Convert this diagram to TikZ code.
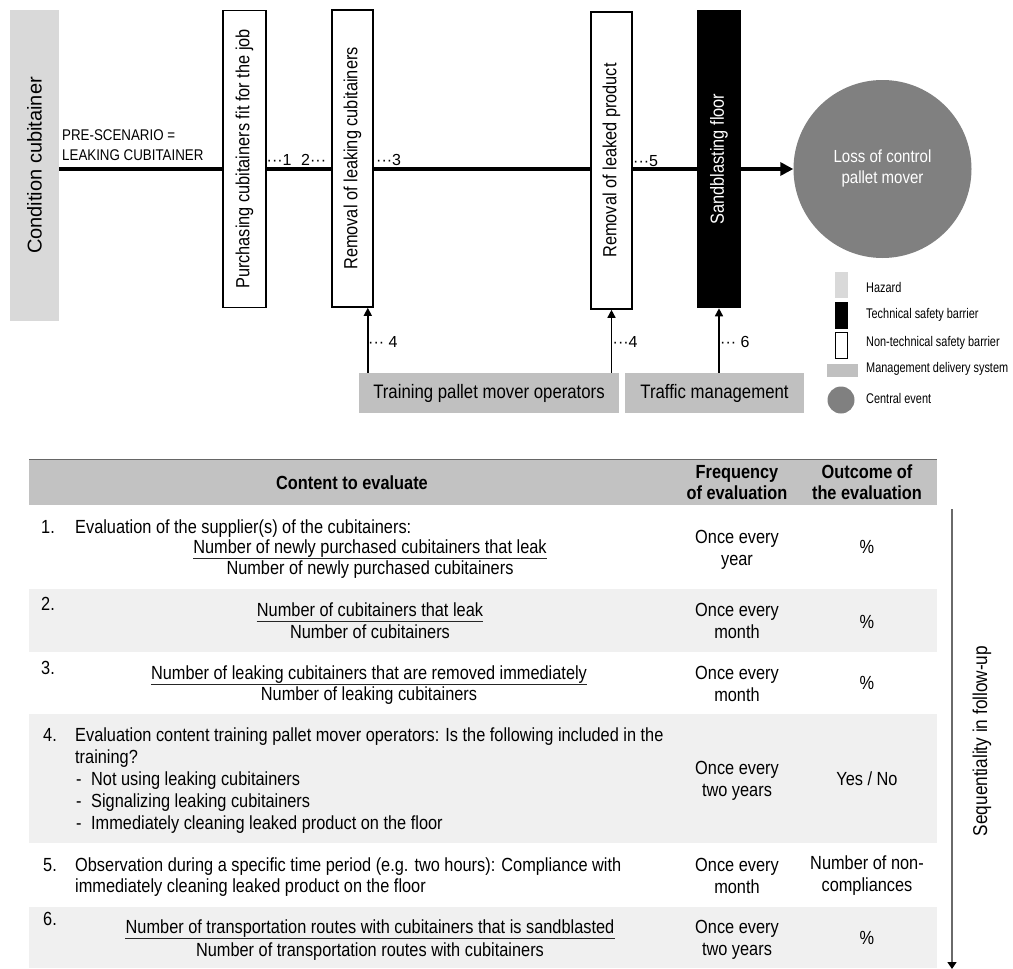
\documentclass[tikz,border=0pt]{standalone}
\usepackage{fontspec}
\setmainfont{Liberation Sans}[FakeStretch=0.86]
\newfontfamily\plainsans{Liberation Sans}
\newfontfamily\narrowsans{Liberation Sans}[FakeStretch=0.78]
\usetikzlibrary{arrows.meta,backgrounds,calc}
\definecolor{hazgray}{HTML}{D9D9D9}
\definecolor{mgmtgray}{HTML}{C0C0C0}
\definecolor{evtgray}{HTML}{808080}
\definecolor{rowgray}{HTML}{F0F0F0}
\definecolor{headgray}{HTML}{C2C2C2}
\definecolor{seqgray}{HTML}{6A6A6A}
\newcommand{\fs}[2]{\fontsize{#1}{#2}\selectfont}
\begin{document}
\begin{tikzpicture}[x=1pt,y=-1pt,
  nontech/.style={draw=black, line width=1.6pt, fill=white, minimum height=297pt, inner sep=0pt, font=\fs{19}{23}},
  techbar/.style={draw=black, line width=1.6pt, fill=black, text=white, minimum height=297pt, inner sep=0pt, font=\fs{19}{23}},
  mgmt/.style={fill=mgmtgray, minimum height=40pt, inner sep=0pt, font=\fs{19.5}{22}},
  lbl/.style={inner sep=0pt, anchor=west, font=\plainsans\fs{16}{18}},
  leg/.style={inner sep=0pt, anchor=west, font=\narrowsans\fs{14}{16}},
  up/.style={line width=1.5pt, -{Triangle[length=8pt,width=8pt]}},
  tx/.style={inner sep=0pt, anchor=base west, font=\fs{19}{22}},
  fr/.style={inner sep=0pt, anchor=base, font=\fs{19}{22}},
  cell/.style={inner sep=0pt, anchor=center, align=center, font=\fs{19}{22}},
  hd/.style={inner sep=0pt, anchor=center, align=center, font=\bfseries\fs{19}{21}},
  fline/.style={line width=0.9pt, black!85}
]
\useasboundingbox (0,0) rectangle (1013,969);

% ---------- hazard ----------
\node (haz) [fill=hazgray, minimum width=49pt, minimum height=311pt, inner sep=0pt,
  font=\plainsans\fs{20}{24}] at (34.5,165.5) {\rotatebox{90}{Condition cubitainer}};

% ---------- barriers ----------
\node (b1) [nontech, minimum width=43pt] at (244.5,159) {\rotatebox{90}{Purchasing cubitainers fit for the job}};
\node (b2) [nontech, minimum width=41pt] at (352.5,158.5) {\rotatebox{90}{Removal of leaking cubitainers}};
\node (b3) [nontech, minimum width=41pt] at (611.5,160.5) {\rotatebox{90}{Removal of leaked product}};
\node (b4) [techbar, minimum width=42pt] at (719,159) {\rotatebox{90}{Sandblasting floor}};

% ---------- central event ----------
\node (evt) [circle, fill=evtgray, minimum size=178pt, inner sep=0pt, text=white,
  font=\fs{17.5}{21}] at (882.5,169)
  {\raisebox{8pt}{\begin{tabular}{@{}c@{}}Loss of control\\pallet mover\end{tabular}}};

% ---------- main line ----------
\coordinate (start) at (haz.east |- evt.west);
\begin{scope}[on background layer]
\draw[line width=3.5pt, -{Triangle[length=13pt,width=13pt]}] (start) -- (evt.west);
\end{scope}

% pre-scenario text
\node (pre) [inner sep=0pt, anchor=north west, align=left, font=\fs{15.5}{20}] at (62,129)
  {PRE-SCENARIO =\\LEAKING CUBITAINER};

% line labels
\node (l1) [lbl] at (266.5,160) {···1};
\node (l2) [lbl] at (301,160) {2···};
\node (l3) [lbl] at (376,160) {···3};
\node (l5) [lbl] at (633,161) {···5};

% ---------- management delivery systems ----------
\node (train) [mgmt, minimum width=260pt] at (489,393) {Training pallet mover operators};
\node (traffic) [mgmt, minimum width=179pt] at (714.5,393) {Traffic management};

\draw[up] ([xshift=-6pt]b2.south east |- train.north) -- ([xshift=-6pt]b2.south east);
\draw[up] (b3.south |- train.north) -- (b3.south);
\draw[up] (b4.south |- traffic.north) -- (b4.south);

\node (l4a) [lbl] at (368,342) {··· 4};
\node (l4b) [lbl] at (612.5,342) {···4};
\node (l6) [lbl] at (720,342) {··· 6};

% ---------- legend ----------
\node (lhaz) [fill=hazgray, minimum width=13pt, minimum height=26pt, inner sep=0pt] at (841.5,285) {};
\node (ltech) [fill=black, minimum width=13pt, minimum height=27pt, inner sep=0pt] at (841.5,315.5) {};
\node (lnon) [draw=black, line width=0.8pt, fill=white, minimum width=12pt, minimum height=26pt, inner sep=0pt] at (841.5,345.5) {};
\node (lmgmt) [fill=mgmtgray, minimum width=31pt, minimum height=13pt, inner sep=0pt] at (842.5,370.5) {};
\node (lcirc) [circle, fill=evtgray, minimum size=27pt, inner sep=0pt] at (841,400) {};
\node (t1) [leg] at (866,287) {Hazard};
\node (t2) [leg] at (866,315) {Technical safety barrier};
\node (t3) [leg] at (866,343) {Non-technical safety barrier};
\node (t4) [leg] at (866,369) {Management delivery system};
\node (t5) [leg] at (866,398) {Central event};

% ---------- table ----------
\fill[headgray] (29,459) rectangle (937,505);
\draw[line width=1pt, black!60] (29,459.5) -- (937,459.5);
\fill[rowgray] (29,589) rectangle (937,652);
\fill[rowgray] (29,714) rectangle (937,843);
\fill[rowgray] (29,907) rectangle (937,968);

\node (h1) [hd] at (352,483) {Content to evaluate};
\node (h2) [hd] at (737,482.5) {Frequency\\of evaluation};
\node (h3) [hd] at (867,482.5) {Outcome of\\the evaluation};

% row 1
\node (n1) [tx] at (41,533) {1.};
\node (r1a) [tx] at (75,533) {Evaluation of the supplier(s) of the cubitainers:};
\node (f1n) [fr] at (370,553) {Number of newly purchased cubitainers that leak};
\draw[fline] ([yshift=-5pt]f1n.base west) -- ([yshift=-5pt]f1n.base east);
\node (f1d) [fr] at (370,574) {Number of newly purchased cubitainers};
\node (q1) [cell] at (737,550) {Once every\\year};
\node (o1) [cell] at (867,547) {\%};

% row 2
\node (n2) [tx] at (41,610) {2.};
\node (f2n) [fr] at (370,616) {Number of cubitainers that leak};
\draw[fline] ([yshift=-5pt]f2n.base west) -- ([yshift=-5pt]f2n.base east);
\node (f2d) [fr] at (370,638) {Number of cubitainers};
\node (q2) [cell] at (737,621) {Once every\\month};
\node (o2) [cell] at (867,622) {\%};

% row 3
\node (n3) [tx] at (41,674) {3.};
\node (f3n) [fr] at (369,679) {Number of leaking cubitainers that are removed immediately};
\draw[fline] ([yshift=-5pt]f3n.base west) -- ([yshift=-5pt]f3n.base east);
\node (f3d) [fr] at (369,700) {Number of leaking cubitainers};
\node (q3) [cell] at (737,684) {Once every\\month};
\node (o3) [cell] at (867,683) {\%};

% row 4
\node (n4) [tx] at (43,741) {4.};
\node (r4a) [tx] at (75,741) {Evaluation content training pallet mover operators: Is the following included in the};
\node (r4b) [tx] at (75,763) {training?};
\node (d4c) [tx] at (76,785) {-};
\node (r4c) [tx] at (91,785) {Not using leaking cubitainers};
\node (d4d) [tx] at (76,807) {-};
\node (r4d) [tx] at (91,807) {Signalizing leaking cubitainers};
\node (d4e) [tx] at (76,829) {-};
\node (r4e) [tx] at (91,829) {Immediately cleaning leaked product on the floor};
\node (q4) [cell] at (737,781) {Once every\\two years};
\node (o4) [cell] at (867,779) {Yes / No};

% row 5
\node (n5) [tx] at (43,871) {5.};
\node (r5a) [tx] at (75,871) {Observation during a specific time period (e.g. two hours): Compliance with};
\node (r5b) [tx] at (75,892) {immediately cleaning leaked product on the floor};
\node (q5) [cell] at (737,876) {Once every\\month};
\node (o5) [cell] at (867,876) {Number of non-\\compliances};

% row 6
\node (n6) [tx] at (43,925) {6.};
\node (f6n) [fr] at (370,933) {Number of transportation routes with cubitainers that is sandblasted};
\draw[fline] ([yshift=-5pt]f6n.base west) -- ([yshift=-5pt]f6n.base east);
\node (f6d) [fr] at (370,956) {Number of transportation routes with cubitainers};
\node (q6) [cell] at (737,940) {Once every\\two years};
\node (o6) [cell] at (867,938) {\%};

% ---------- sequentiality ----------
\coordinate (sqtop) at (952,509);
\coordinate (sqbot) at (952,969);
\draw[line width=1.6pt, seqgray, -{Triangle[length=7pt,width=9pt,black]}] (sqtop) -- (sqbot);
\node (seq) [inner sep=0pt, font=\fs{20}{24}] at (982,741) {\rotatebox{90}{Sequentiality in follow-up}};
\end{tikzpicture}
\end{document}
